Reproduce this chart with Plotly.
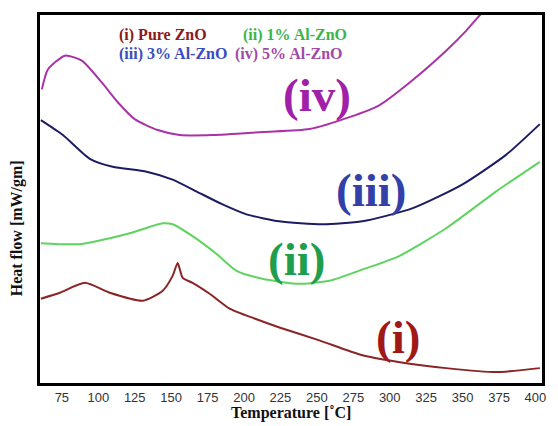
import plotly.graph_objects as go

# Temperature (°C) and heat flow (arbitrary units)
temp_i = [60.6, 73.6, 90.8, 107.9, 130.5, 144.2, 151.0, 154.5, 157.9, 164.7, 176.4, 190.1, 207.2, 224.3, 251.7, 281.2, 311.3, 338.7, 372.9, 403.0]
flow_i = [8.5, 9.1, 10.1, 9.1, 8.3, 9.3, 10.8, 12.1, 10.6, 10.1, 9.0, 7.5, 6.5, 5.6, 4.3, 2.8, 2.0, 1.5, 1.1, 1.5]

temp_ii = [60.6, 87.3, 121.6, 144.2, 151.0, 164.7, 181.2, 194.9, 212.7, 236.0, 258.6, 282.5, 306.5, 338.7, 372.9, 403.0]
flow_ii = [14.1, 14.0, 15.1, 16.1, 16.0, 14.8, 13.0, 11.3, 10.5, 10.0, 10.3, 11.5, 12.8, 15.6, 19.3, 22.3]

temp_iii = [60.6, 75.7, 94.2, 109.9, 133.2, 151.0, 167.5, 185.3, 201.7, 224.3, 253.8, 281.2, 315.4, 349.7, 379.8, 403.0]
flow_iii = [26.5, 25.0, 22.6, 21.8, 21.3, 20.5, 19.3, 18.0, 17.0, 16.3, 16.0, 16.3, 17.6, 20.0, 23.0, 26.1]

temp_iv = [61.3, 65.4, 77.1, 88.7, 102.4, 113.4, 125.0, 140.8, 155.8, 178.4, 212.7, 244.9, 272.3, 292.8, 315.4, 338.7, 352.4, 361.3, 368.2]
flow_iv = [29.6, 31.6, 33.0, 32.5, 30.3, 28.3, 26.6, 25.5, 25.0, 25.0, 25.3, 25.6, 26.8, 28.0, 30.5, 33.5, 35.5, 37.0, 38.0]

series_names = ["(i) Pure ZnO", "(ii) 1% Al-ZnO", "(iii) 3% Al-ZnO", "(iv) 5% Al-ZnO"]
curve_tags = ["(i)", "(ii)", "(iii)", "(iv)"]
tag_temp = [305.8, 236.0, 287.3, 250.3]
tag_flow = [4.6, 12.5, 19.5, 29.0]

tick_vals = [75, 100, 125, 150, 175, 200, 225, 250, 275, 300, 325, 350, 375, 400]

line_colors = ["#8b2525", "#5fd35f", "#1c1c62", "#a833a8"]
tag_colors = ["#a01818", "#1f9e4e", "#3340a8", "#a020a8"]
legend_colors = ["#8b1a1a", "#3cb54a", "#3b4cc0", "#a04aa8"]

W, H = 558, 426
L, R, T, B = 40, 15, 12, 43
pw, ph = W - L - R, H - T - B


def px2paper_x(px):
    return (px - L) / pw


def py2paper_y(py):
    return (H - B - py) / ph


fig = go.Figure()
for t, f, c in [(temp_i, flow_i, line_colors[0]), (temp_ii, flow_ii, line_colors[1]),
                (temp_iii, flow_iii, line_colors[2]), (temp_iv, flow_iv, line_colors[3])]:
    fig.add_trace(go.Scatter(x=t, y=f, mode="lines",
                             line=dict(color=c, width=2, shape="spline", smoothing=0.6),
                             showlegend=False))

serif = "Liberation Serif, Times New Roman, serif"

for tag, tx, ty, col in zip(curve_tags, tag_temp, tag_flow, tag_colors):
    fig.add_annotation(x=tx, y=ty, xref="x", yref="y", text="<b>" + tag + "</b>",
                       xanchor="center", yanchor="middle",
                       showarrow=False, font=dict(family=serif, size=47, color=col))

# legend-like text block
leg_pos = [(117, 32), (241, 32), (117, 51), (233, 51)]
for name, (px, py), col in zip(series_names, leg_pos, legend_colors):
    fig.add_annotation(x=px2paper_x(px), y=py2paper_y(py), xref="paper", yref="paper",
                       xanchor="left", yanchor="middle", text="<b>" + name + "</b>",
                       showarrow=False, font=dict(family=serif, size=16, color=col))

fig.add_annotation(x=px2paper_x(291), y=py2paper_y(413), xref="paper", yref="paper",
                   xanchor="center", yanchor="middle",
                   text="<b>Temperature [˚C]</b>", showarrow=False,
                   font=dict(family=serif, size=16, color="#111"))
fig.add_annotation(x=px2paper_x(17), y=py2paper_y(227), xref="paper", yref="paper",
                   xanchor="center", yanchor="middle",
                   text="<b>Heat flow [mW/gm]</b>", showarrow=False, textangle=-90,
                   font=dict(family=serif, size=16, color="#111"))

fig.update_layout(
    width=W, height=H,
    margin=dict(l=L, r=R, t=T, b=B),
    paper_bgcolor="white", plot_bgcolor="white",
    xaxis=dict(range=[60, 404.5], tickvals=tick_vals, ticks="", showgrid=False,
               zeroline=False, showline=True, mirror=True, linecolor="black", linewidth=3,
               tickfont=dict(family="Liberation Sans, Arial, sans-serif", size=13, color="#333")),
    yaxis=dict(range=[0, 37.1], showticklabels=False, ticks="", showgrid=False,
               zeroline=False, showline=True, mirror=True, linecolor="black", linewidth=3),
)

fig.write_html("out.html")
